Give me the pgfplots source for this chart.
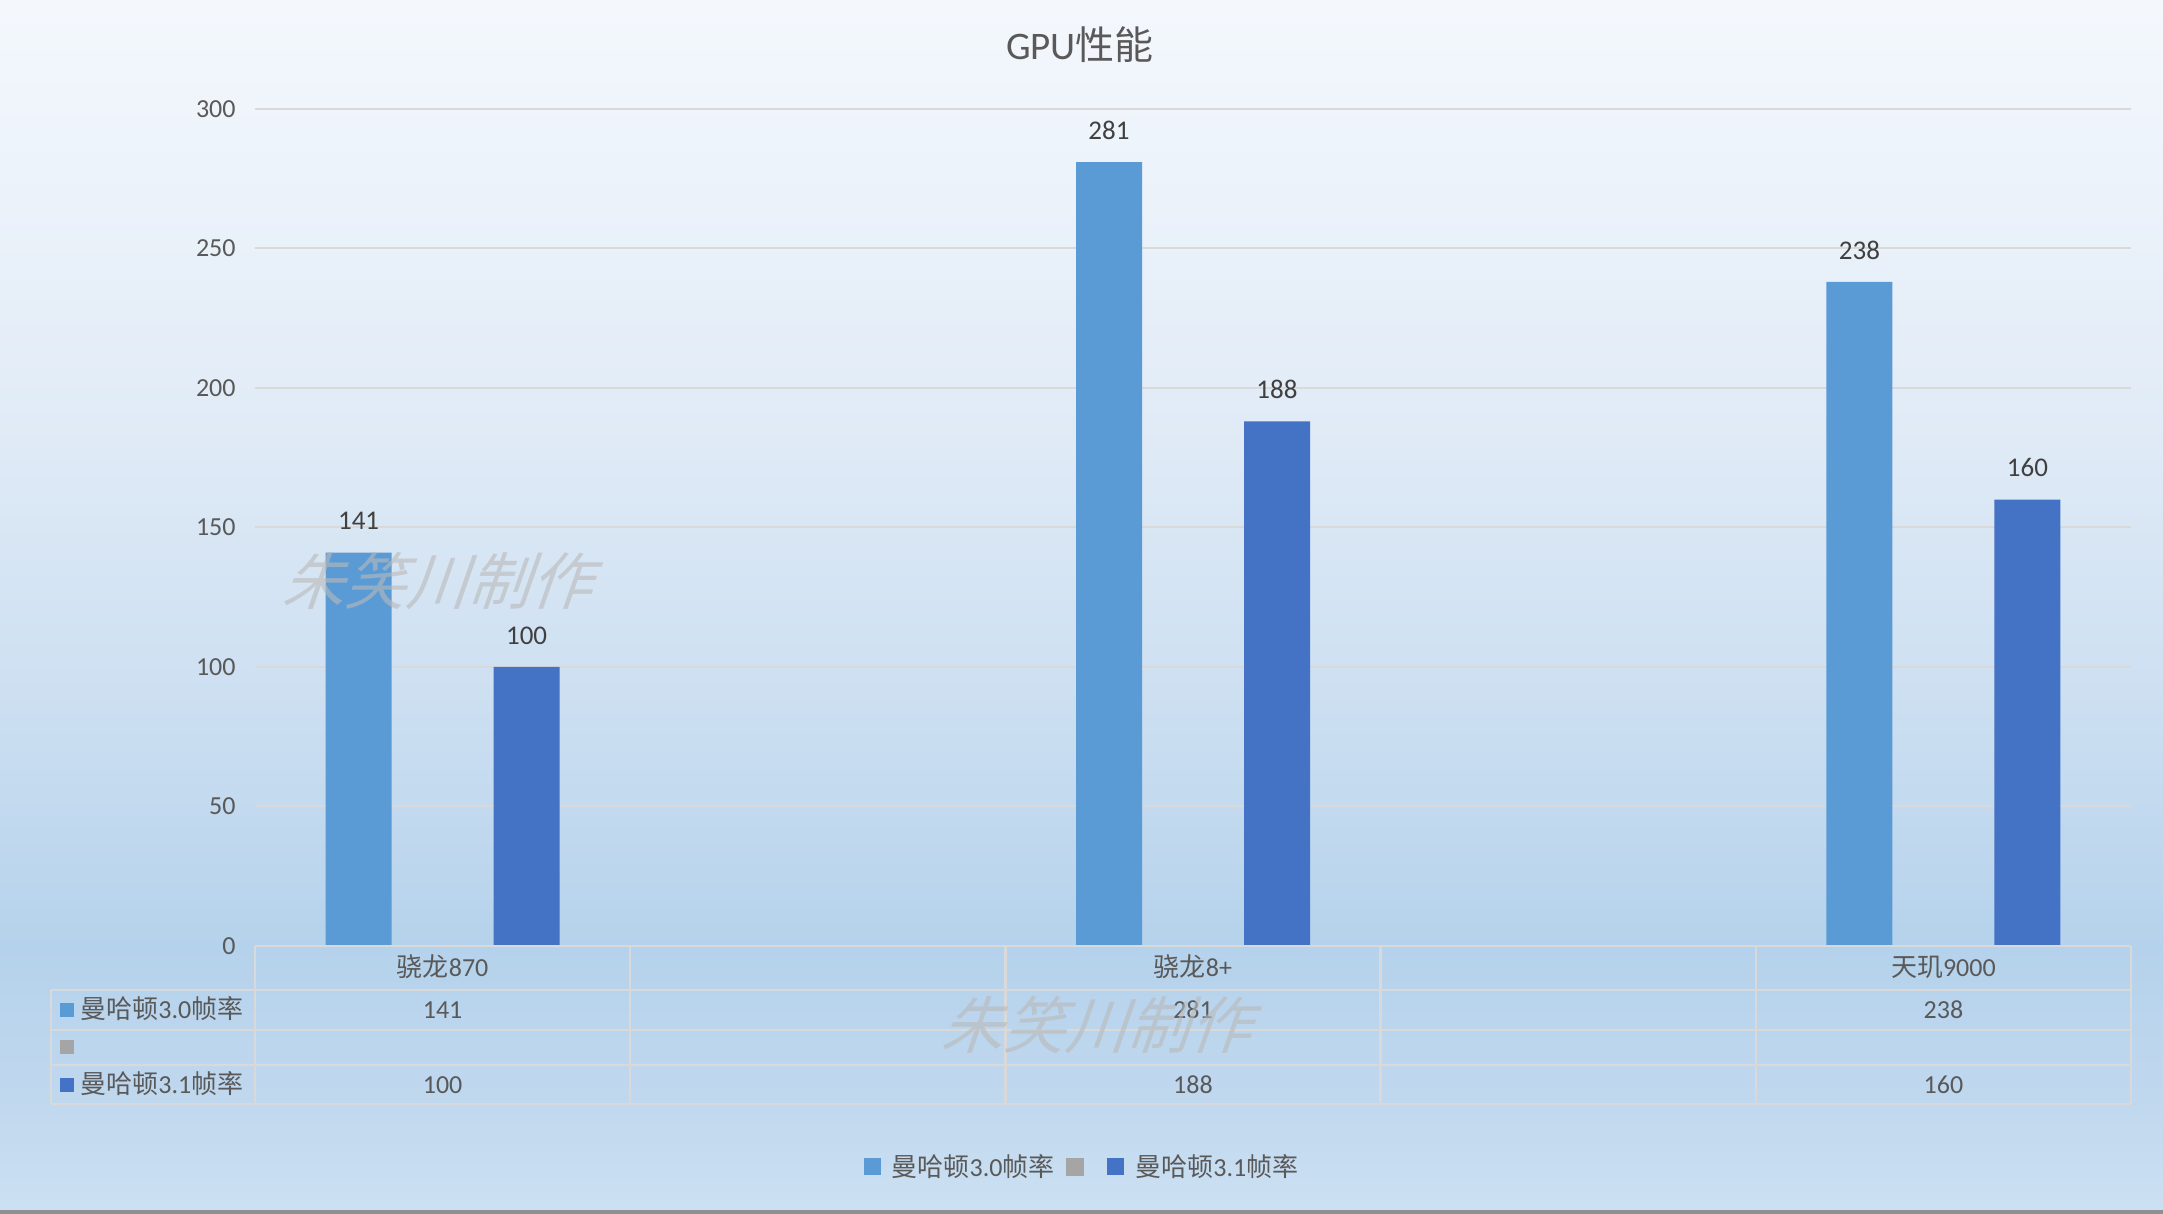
\documentclass[border=0pt]{standalone}
\usepackage{pgfplots}
\pgfplotsset{compat=1.18}
\usepackage{fontspec}
\setmainfont{Carlito}
\newfontfamily\cjk{Noto Sans CJK SC}
\definecolor{cA}{HTML}{5B9BD5}
\definecolor{cB}{HTML}{A5A5A5}
\definecolor{cC}{HTML}{4472C4}
\definecolor{txt}{HTML}{595959}
\definecolor{lbl}{HTML}{404040}
\definecolor{gridc}{HTML}{D9D9D9}
\definecolor{b0}{HTML}{CCE0F2}
\definecolor{b1}{HTML}{C0D8EE}
\definecolor{b2}{HTML}{B5D2EC}
\definecolor{b3}{HTML}{CCDFF1}
\definecolor{b4}{HTML}{E2ECF7}
\definecolor{b5}{HTML}{F4F8FD}
\pgfdeclareverticalshading{bgshade}{100bp}{color(0bp)=(b0); color(25bp)=(b0); color(29.7bp)=(b1); color(36bp)=(b2); color(46bp)=(b3); color(58.5bp)=(b4); color(75bp)=(b5); color(100bp)=(b5)}
\newcommand\fs{\fontsize{13}{15.6}\selectfont}
\begin{document}
\begin{tikzpicture}
\useasboundingbox (-127.5pt,-134pt) rectangle (954pt,473pt);
\shade[shading=bgshade] (-127.5pt,-134pt) rectangle (954pt,473pt);
\fill[color=black!44] (-127.5pt,-134pt) rectangle (954pt,-132pt);
\begin{axis}[
  at={(0pt,0pt)}, anchor=south west,
  width=938pt, height=418.5pt, scale only axis,
  /pgf/number format/assume math mode=true,
  xmin=-0.5, xmax=4.5, ymin=0, ymax=300, enlargelimits=false,
  ytick={0,50,...,300}, xtick=\empty,
  axis line style={draw=none},
  major tick length=0pt, ytick style={draw=none},
  ymajorgrids, grid style={gridc, line width=1pt},
  yticklabel style={font=\fs, text=txt, inner sep=0pt, xshift=-9.5pt},
  ybar, bar width=33pt,
  clip=false,
  nodes near coords, point meta=y,
  every node near coord/.append style={font=\fontsize{13.5}{16}\selectfont, text=lbl, anchor=base, yshift=11.4pt},
  legend style={at={(axis description cs:0.4403,-0.264)}, anchor=center, draw=none, fill=none,
    legend columns=3, font=\fs, text=txt, column sep=0pt, inner sep=0pt, nodes={inner sep=0pt},
    /tikz/every odd column/.append style={column sep=5.5pt},
    /tikz/every even column/.append style={column sep=5.5pt}},
  title={GPU{\cjk 性能}},
  title style={font=\fontsize{19.5}{23}\selectfont, text=txt, at={(axis description cs:0.4398,1.0628)}, anchor=center, yshift=0pt},
]
\addplot[fill=cA, draw=none, bar shift=-42pt,
  legend image code/.code={\fill[cA] (0pt,-4.25pt) rectangle (8.5pt,4.25pt);}]
  coordinates {(0,141) (2,281) (4,238)};
\addlegendentry{{\cjk 曼哈顿}3.0{\cjk 帧率}}
\addlegendimage{legend image code/.code={\fill[cB] (0pt,-4.25pt) rectangle (8.5pt,4.25pt);}}
\addlegendentry{}
\addplot[fill=cC, draw=none, bar shift=42pt,
  legend image code/.code={\fill[cC] (0pt,-4.25pt) rectangle (8.5pt,4.25pt);}]
  coordinates {(0,100) (2,188) (4,160)};
\addlegendentry{{\cjk 曼哈顿}3.1{\cjk 帧率}}
\end{axis}
% data table
\begin{scope}[gridc, line width=1.2pt]
\draw (0pt,0pt) -- (938pt,0pt);
\draw (-102pt,-22pt) -- (938pt,-22pt);
\draw (-102pt,-42pt) -- (938pt,-42pt);
\draw (-102pt,-59.5pt) -- (938pt,-59.5pt);
\draw (-102pt,-79pt) -- (938pt,-79pt);
\draw (-102pt,-22pt) -- (-102pt,-79pt);
\foreach \k in {0,...,5} \draw (\k*187.6pt,0pt) -- (\k*187.6pt,-79pt);
\end{scope}
\begin{scope}[every node/.style={font=\fs, text=txt, inner sep=0pt, anchor=base}]
\node at (93.8pt,-15.3pt) {{\cjk 骁龙}870};
\node at (469pt,-15.3pt) {{\cjk 骁龙}8+};
\node at (844.2pt,-15.3pt) {{\cjk 天玑}9000};
\node at (93.8pt,-36.3pt) {141};
\node at (469pt,-36.3pt) {281};
\node at (844.2pt,-36.3pt) {238};
\node at (93.8pt,-73.8pt) {100};
\node at (469pt,-73.8pt) {188};
\node at (844.2pt,-73.8pt) {160};
\node[anchor=base west] at (-87.5pt,-36.3pt) {{\cjk 曼哈顿}3.0{\cjk 帧率}};
\node[anchor=base west] at (-87.5pt,-73.8pt) {{\cjk 曼哈顿}3.1{\cjk 帧率}};
\end{scope}
\fill[cA] (-97.5pt,-35.5pt) rectangle (-90.5pt,-28.5pt);
\fill[cB] (-97.5pt,-54.25pt) rectangle (-90.5pt,-47.25pt);
\fill[cC] (-97.5pt,-73pt) rectangle (-90.5pt,-66pt);
% watermarks
\node[text=gray!55, opacity=0.6, font=\cjk\fontsize{31}{32}\selectfont, xslant=0.35] at (95pt,182.5pt) {朱笑川制作};
\node[text=gray!55, opacity=0.6, font=\cjk\fontsize{31}{32}\selectfont, xslant=0.35] at (424.5pt,-39.5pt) {朱笑川制作};
\end{tikzpicture}
\end{document}
